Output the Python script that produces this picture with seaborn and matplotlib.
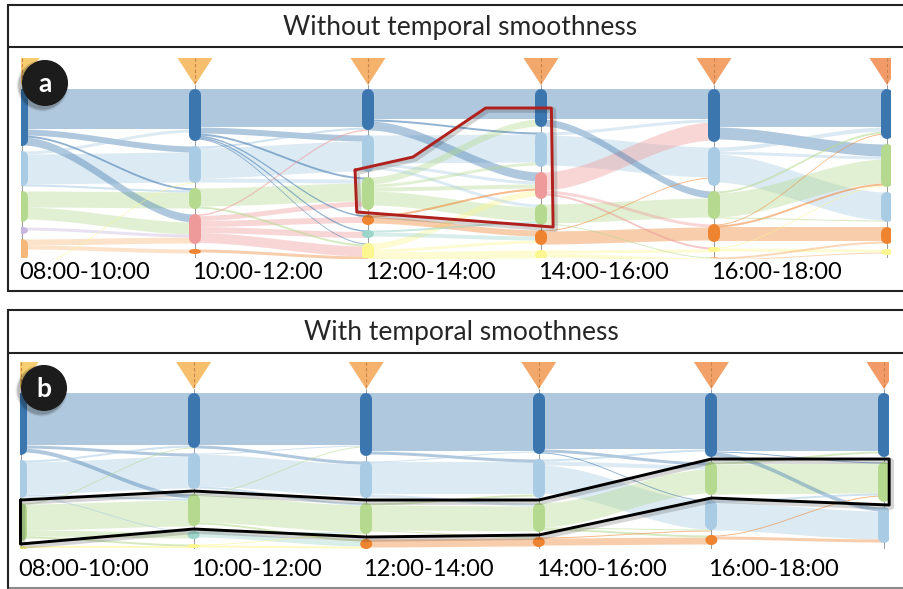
import numpy as np
import pandas as pd
import seaborn as sns
import matplotlib.pyplot as plt
from matplotlib.patches import Ellipse, Circle
import matplotlib.patheffects as pe
import matplotlib.transforms as mtransforms

# setup
sns.set_theme(style='white')
plt.rcParams['font.family'] = ['Lato', 'DejaVu Sans']

W, H = 904, 589

# time slots under the columns (last column has no label)
time_labels = ['08:00-10:00', '10:00-12:00', '12:00-14:00', '14:00-16:00', '16:00-18:00']

# cluster sizes in each time column, top to bottom  (panel a: without smoothness)
nodes_a = [
    [('dblue', 57), ('lblue', 35), ('green', 31), ('purple', 7), ('lorange', 22), ('yellow', 8)],
    [('dblue', 52), ('lblue', 37), ('green', 21), ('pink', 30), ('orange', 5)],
    [('dblue', 41), ('lblue', 37), ('green', 33), ('orange', 10), ('teal', 8), ('yellow', 18)],
    [('dblue', 38), ('lblue', 35), ('pink', 27), ('green', 21), ('orange', 15), ('yellow', 10)],
    [('dblue', 53), ('lblue', 39), ('green', 28), ('orange', 18), ('yellow', 5), ('lorange', 6)],
    [('dblue', 50), ('green', 43), ('lblue', 30), ('orange', 17), ('yellow', 6)],
]

# transitions between column t and t+1: (t, from, to, size)
flows_a = [
    (0, 'dblue', 'dblue', 40), (0, 'lblue', 'dblue', 3), (0, 'dblue', 'lblue', 6), (0, 'dblue', 'green', 2),
    (0, 'dblue', 'pink', 8), (0, 'lblue', 'lblue', 30), (0, 'lblue', 'green', 2), (0, 'yellow', 'lblue', 1),
    (0, 'green', 'green', 16), (0, 'green', 'pink', 12), (0, 'purple', 'pink', 3), (0, 'lorange', 'pink', 6),
    (0, 'lorange', 'orange', 4),
    (1, 'dblue', 'dblue', 38), (1, 'dblue', 'lblue', 6), (1, 'dblue', 'green', 2), (1, 'dblue', 'orange', 1.5),
    (1, 'dblue', 'teal', 1.5), (1, 'dblue', 'yellow', 1), (1, 'lblue', 'lblue', 30), (1, 'lblue', 'green', 4),
    (1, 'lblue', 'dblue', 2), (1, 'green', 'green', 18), (1, 'green', 'yellow', 2), (1, 'pink', 'dblue', 1.5),
    (1, 'pink', 'green', 5), (1, 'pink', 'orange', 6), (1, 'pink', 'teal', 6), (1, 'pink', 'yellow', 10),
    (1, 'orange', 'yellow', 3),
    (2, 'dblue', 'dblue', 30), (2, 'dblue', 'lblue', 2), (2, 'dblue', 'pink', 9), (2, 'lblue', 'lblue', 28),
    (2, 'lblue', 'pink', 3), (2, 'lblue', 'green', 3), (2, 'green', 'dblue', 7), (2, 'green', 'green', 14),
    (2, 'green', 'pink', 4), (2, 'green', 'lblue', 3), (2, 'orange', 'pink', 2), (2, 'orange', 'orange', 6),
    (2, 'teal', 'orange', 4), (2, 'teal', 'green', 2), (2, 'yellow', 'pink', 6), (2, 'yellow', 'orange', 3),
    (2, 'yellow', 'yellow', 8),
    (3, 'dblue', 'dblue', 30), (3, 'dblue', 'green', 7), (3, 'lblue', 'dblue', 3), (3, 'lblue', 'lblue', 30),
    (3, 'pink', 'dblue', 18), (3, 'pink', 'orange', 3), (3, 'pink', 'yellow', 2), (3, 'green', 'green', 19),
    (3, 'green', 'lorange', 1), (3, 'orange', 'orange', 13), (3, 'orange', 'lblue', 1), (3, 'yellow', 'yellow', 3),
    (3, 'yellow', 'lorange', 4),
    (4, 'dblue', 'dblue', 38), (4, 'dblue', 'green', 12), (4, 'lblue', 'dblue', 4), (4, 'lblue', 'lblue', 28),
    (4, 'lblue', 'green', 3), (4, 'green', 'green', 24), (4, 'green', 'dblue', 2), (4, 'green', 'lblue', 1),
    (4, 'orange', 'orange', 14), (4, 'orange', 'green', 2), (4, 'orange', 'dblue', 1), (4, 'yellow', 'green', 1),
    (4, 'yellow', 'yellow', 3), (4, 'lorange', 'orange', 2), (4, 'lorange', 'yellow', 1),
]

# panel b: with temporal smoothness
nodes_b = [
    [('dblue', 62), ('lblue', 38), ('green', 38), ('yellow', 6)],
    [('dblue', 55), ('lblue', 36), ('green', 32), ('teal', 8), ('yellow', 4)],
    [('dblue', 63), ('lblue', 37), ('green', 31), ('orange', 10)],
    [('dblue', 61), ('lblue', 39), ('green', 29), ('orange', 10)],
    [('dblue', 64), ('green', 33), ('lblue', 30), ('orange', 10)],
    [('dblue', 64), ('green', 40), ('lblue', 36)],
]

flows_b = [
    (0, 'dblue', 'dblue', 52), (0, 'dblue', 'lblue', 3), (0, 'dblue', 'green', 4), (0, 'lblue', 'dblue', 2),
    (0, 'lblue', 'lblue', 32), (0, 'lblue', 'green', 2), (0, 'lblue', 'teal', 1), (0, 'green', 'dblue', 1),
    (0, 'green', 'green', 26), (0, 'green', 'teal', 6), (0, 'green', 'yellow', 2), (0, 'yellow', 'yellow', 2),
    (1, 'dblue', 'dblue', 52), (1, 'dblue', 'lblue', 3), (1, 'lblue', 'lblue', 32), (1, 'lblue', 'green', 2),
    (1, 'lblue', 'dblue', 1), (1, 'green', 'green', 27), (1, 'green', 'dblue', 1), (1, 'green', 'orange', 2),
    (1, 'teal', 'orange', 5), (1, 'teal', 'green', 1), (1, 'yellow', 'green', 1), (1, 'yellow', 'orange', 2),
    (2, 'dblue', 'dblue', 58), (2, 'dblue', 'lblue', 3), (2, 'lblue', 'lblue', 32), (2, 'lblue', 'green', 3),
    (2, 'lblue', 'dblue', 1), (2, 'green', 'green', 25), (2, 'green', 'lblue', 2), (2, 'green', 'orange', 1),
    (2, 'orange', 'orange', 8),
    (3, 'dblue', 'dblue', 56), (3, 'dblue', 'green', 3), (3, 'dblue', 'lblue', 1), (3, 'lblue', 'dblue', 2),
    (3, 'lblue', 'green', 4), (3, 'lblue', 'lblue', 28), (3, 'green', 'green', 24), (3, 'green', 'lblue', 1),
    (3, 'green', 'orange', 2), (3, 'orange', 'orange', 7), (3, 'orange', 'lblue', 1),
    (4, 'dblue', 'dblue', 58), (4, 'dblue', 'lblue', 4), (4, 'dblue', 'green', 1), (4, 'green', 'green', 30),
    (4, 'green', 'dblue', 2), (4, 'lblue', 'lblue', 28), (4, 'lblue', 'green', 2), (4, 'orange', 'green', 1),
    (4, 'orange', 'lblue', 3),
]

node_colors = {
    'dblue': '#3b76ae', 'lblue': '#a9cbe3', 'green': '#b5da8f', 'pink': '#ef9a9a',
    'orange': '#ef8430', 'lorange': '#f6b77a', 'yellow': '#fbf68f', 'teal': '#9ed5cb',
    'purple': '#c9b5dd',
}
triangle_colors = ['#f7cf70', '#f5bf6e', '#f4b26c', '#f3a86b', '#f2a169', '#f29b68']

TOP, GAP = 31, 5


def layout(columns):
    pos = {}
    for c, col in enumerate(columns):
        y = TOP
        for cat, size in col:
            pos[(c, cat)] = (y, y + size)
            y += size + GAP
    return pos


def stack_flows(flows, pos):
    df = pd.DataFrame(flows, columns=['t', 'src', 'dst', 'value'])
    df['src_y'] = [pos[(t, s)][0] for t, s in zip(df.t, df.src)]
    df['dst_y'] = [pos[(t + 1, d)][0] for t, d in zip(df.t, df.dst)]
    df['y0'] = 0.0
    df['y1'] = 0.0
    for (t, s), g in df.groupby(['t', 'src']):
        start = pos[(t, s)][0]
        for i in g.sort_values('dst_y').index:
            df.loc[i, 'y0'] = start
            start += df.loc[i, 'value']
    for (t, d), g in df.groupby(['t', 'dst']):
        start = pos[(t + 1, d)][0]
        for i in g.sort_values('src_y').index:
            df.loc[i, 'y1'] = start
            start += df.loc[i, 'value']
    return df


def draw_panel(ax, nodes, flows, height, px_col, label_pad):
    pos = layout(nodes)
    df = stack_flows(flows, pos)
    xs = np.linspace(0, 1, 80)
    s = xs * xs * (3 - 2 * xs)
    for _, f in df.sort_values('value', ascending=False).iterrows():
        top = f.y0 + (f.y1 - f.y0) * s
        a = 0.4 if f.value >= 3 else 0.55
        ax.fill_between(f.t + xs, top, top + f.value, color=node_colors[f.src],
                        alpha=a, lw=0, zorder=1)
    hw = 17.5 / px_col
    for c in range(len(nodes)):
        ax.plot([c, c], [27, height], color='#9a9a9a', lw=0.7, zorder=2)
        ax.fill([c - hw, c + hw, c], [0, 0, 27], color=triangle_colors[c], lw=0, zorder=3)
        ax.plot([c, c], [0, 26], color='#c8844a', lw=0.8, ls=(0, (3, 2)), zorder=4)
    w = 12 / px_col
    for (c, cat), (y0, y1) in pos.items():
        h = y1 - y0
        if h > 12:
            ax.plot([c, c], [y0 + 6, y1 - 6], color=node_colors[cat], lw=8.64,
                    solid_capstyle='round', zorder=5)
        else:
            ax.add_patch(Ellipse((c, (y0 + y1) / 2), w, h, color=node_colors[cat], lw=0, zorder=5))
    ax.set_ylim(height, 0)
    ax.set_yticks([])
    ax.set_xticks(range(len(time_labels)))
    ax.set_xticklabels(time_labels, ha='left', fontsize=17, color='black')
    ax.tick_params(axis='x', length=0, pad=label_pad)
    # labels sit a few pixels left of their column
    shift = mtransforms.ScaledTranslation(-3 / 100, 0, ax.figure.dpi_scale_trans)
    for lab in ax.get_xticklabels():
        lab.set_transform(lab.get_transform() + shift)
    sns.despine(ax=ax, left=True, bottom=True)
    ax.patch.set_alpha(0)
    return pos


fig = plt.figure(figsize=(W / 100, H / 100), dpi=100)

# panel a plot area (pixels 21..891, 58..258)
ax1 = fig.add_axes([21 / W, 1 - 258 / H, 870 / W, 200 / H])
px_a = 173.0
pos_a = draw_panel(ax1, nodes_a, flows_a, 200, px_a, 3)
ax1.set_xlim(-1 / px_a, -1 / px_a + 870 / px_a)

# panel b plot area (pixels 20..889, 362..549)
ax2 = fig.add_axes([20 / W, 1 - 549 / H, 869 / W, 187 / H])
px_b = 172.6
pos_b = draw_panel(ax2, nodes_b, flows_b, 187, px_b, 7)
ax2.set_xlim(-1 / px_b, -1 / px_b + 869 / px_b)

shadow = [pe.SimpleLineShadow(offset=(1.5, -1.5), alpha=0.18, linewidth=4), pe.Normal()]

# highlight a: green cluster at 12:00-14:00 and the split at 14:00-16:00
g2t, g2b = pos_a[(2, 'green')]
d3t, d3b = pos_a[(3, 'dblue')]
g3t, g3b = pos_a[(3, 'green')]
d3m = (d3t + d3b) / 2
red_x = [2 - 0.075, 2 + 0.26, 2 + 0.68, 3 + 0.06, 3 + 0.07, 2 - 0.065, 2 - 0.075]
red_y = [g2t - 7, g2t - 20, d3m, d3m, g3b + 2, g2b + 2, g2t - 7]
ax1.plot(red_x, red_y, color='#b0201c', lw=2.1, zorder=8, clip_on=False, path_effects=shadow)

# highlight b: the green cluster across all columns
gx = [-0.003, 1, 2, 3, 4, 5.03]
gtop = [pos_b[(c, 'green')][0] - 3 for c in range(6)]
gbot = [pos_b[(c, 'green')][1] + 3 for c in range(6)]
ax2.plot(gx + gx[::-1] + gx[:1], gtop + gbot[::-1] + gtop[:1], color='black', lw=2.1,
         zorder=8, clip_on=False, path_effects=shadow)

# frames, titles and badges in pixel space
frame = fig.add_axes([0, 0, 1, 1], zorder=10)
frame.set_xlim(0, W)
frame.set_ylim(H, 0)
frame.axis('off')
frame.patch.set_alpha(0)

for top, sep, bot, bcol in [(5, 47, 291, '#222222'), (310, 353, 588, '#8a8a8a')]:
    frame.plot([8, W], [top, top], color='#222222', lw=1.5)
    frame.plot([8, W], [sep, sep], color='#222222', lw=1.5)
    frame.plot([8, W], [bot, bot], color=bcol, lw=1.5)
    frame.plot([8, 8], [top, bot], color='#222222', lw=1.5)

frame.text(460, 35, 'Without temporal smoothness', ha='center', va='baseline', fontsize=19)
frame.text(461, 340, 'With temporal smoothness', ha='center', va='baseline', fontsize=19)

for (cx, cy), letter in [((45, 83), 'a'), ((44, 388), 'b')]:
    for r, a in [(26, 0.06), (25, 0.1), (24, 0.14)]:
        frame.add_patch(Circle((cx - 2.5, cy + 2.5), r, color='black', alpha=a, lw=0))
    frame.add_patch(Circle((cx, cy), 23, color='#1c1c1c', lw=0))
    frame.text(cx, cy + 1, letter, ha='center', va='center', fontsize=19,
               fontweight='bold', color='white')

fig.savefig('out.png', dpi=100)
